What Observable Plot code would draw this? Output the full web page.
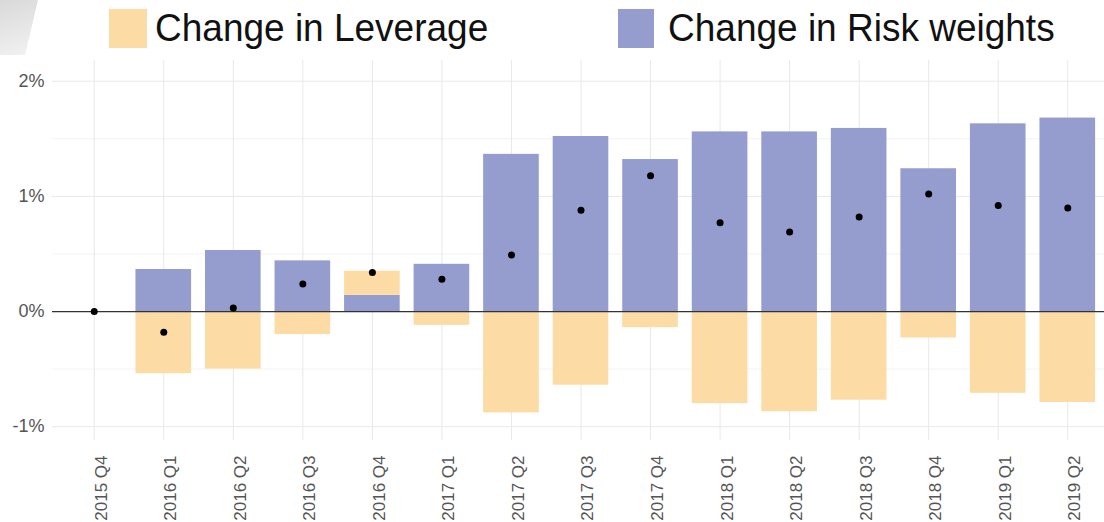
<!DOCTYPE html>
<html>
<head>
<meta charset="utf-8">
<script src="https://cdn.jsdelivr.net/npm/d3@7"></script>
<script src="https://cdn.jsdelivr.net/npm/@observablehq/plot@0.6"></script>
<style>
  html, body { margin: 0; padding: 0; background: #fff; }
  body { width: 1104px; height: 522px; overflow: hidden; position: relative; font-family: "Liberation Sans", Arial, sans-serif; }
  #deco { position: absolute; left: 0; top: 0; width: 40px; height: 55px;
    clip-path: polygon(0 0, 38px 0, 25px 55px, 0 55px);
    background: linear-gradient(160deg, #d9d9d9, #f3f3f3); }
  #legend { position: relative; height: 58px; }
  .sw { position: absolute; top: 9px; width: 38px; height: 39px; }
  .lt { position: absolute; top: 6px; font-size: 37px; line-height: 44px; color: #111; white-space: nowrap; transform: scaleY(1.06); transform-origin: 0 50%; }
  #chart svg { display: block; }
</style>
</head>
<body>
<div id="deco"></div>
<div id="legend">
  <div class="sw" style="left:109px;background:#fcdca4"></div>
  <div class="lt" style="left:155px">Change in Leverage</div>
  <div class="sw" style="left:618px;width:36px;background:#959dcf"></div>
  <div class="lt" style="left:668px">Change in Risk weights</div>
</div>
<div id="chart"></div>
<script>
const quarters = ["2015 Q4","2016 Q1","2016 Q2","2016 Q3","2016 Q4","2017 Q1","2017 Q2","2017 Q3","2017 Q4","2018 Q1","2018 Q2","2018 Q3","2018 Q4","2019 Q1","2019 Q2"];
const riskWeights = [0, 0.365, 0.53, 0.44, 0.14, 0.41, 1.365, 1.52, 1.32, 1.56, 1.56, 1.59, 1.24, 1.63, 1.68];
const leverage = [0, -0.54, -0.50, -0.20, 0.21, -0.12, -0.88, -0.64, -0.14, -0.80, -0.87, -0.77, -0.23, -0.71, -0.79];
const netChange = [0, -0.18, 0.03, 0.24, 0.34, 0.28, 0.49, 0.88, 1.18, 0.77, 0.69, 0.82, 1.02, 0.92, 0.90];
const yTicks = [-1, 0, 1, 2];
const yMinor = [-0.5, 0.5, 1.5];
const seriesNames = ["Change in Leverage", "Change in Risk weights"];
const seriesColors = ["#fcdca4", "#959dcf"];

const rows = [];
quarters.forEach((q, i) => rows.push({quarter: q, series: seriesNames[1], value: riskWeights[i]}));
quarters.forEach((q, i) => rows.push({quarter: q, series: seriesNames[0], value: leverage[i]}));
const dots = quarters.map((q, i) => ({quarter: q, value: netChange[i]}));

const chart = Plot.plot({
  width: 1104,
  height: 464,
  marginLeft: 52,
  marginRight: 0,
  marginTop: 2,
  marginBottom: 82,
  style: {fontFamily: "'Liberation Sans', Arial, sans-serif", background: "#fff", overflow: "hidden"},
  x: {domain: quarters, range: [52, 1109], paddingInner: 0.2, paddingOuter: 0.2, round: false, label: null},
  y: {domain: [-1.12, 2.18], label: null},
  color: {domain: seriesNames, range: seriesColors},
  marks: [
    Plot.ruleY(yMinor, {stroke: "#f3f3f3", strokeWidth: 1}),
    Plot.ruleY(yTicks, {stroke: "#e8e8e8", strokeWidth: 1}),
    Plot.gridX({stroke: "#e8e8e8", strokeOpacity: 1, strokeWidth: 1}),
    Plot.barY(rows, {x: "quarter", y: "value", fill: "series"}),
    Plot.ruleY([0], {stroke: "#333", strokeWidth: 1.3}),
    Plot.dot(dots, {x: "quarter", y: "value", r: 3.5, fill: "#000", stroke: "none"}),
    Plot.axisY({ticks: yTicks, tickFormat: d => d + "%", tickSize: 0, tickPadding: 8, fontSize: 18, fill: "#555", label: null}),
    Plot.axisX({tickRotate: -90, tickSize: 0, tickPadding: 15, dx: 7, fontSize: 17, fill: "#555", label: null})
  ]
});
document.getElementById("chart").appendChild(chart);
</script>
</body>
</html>
